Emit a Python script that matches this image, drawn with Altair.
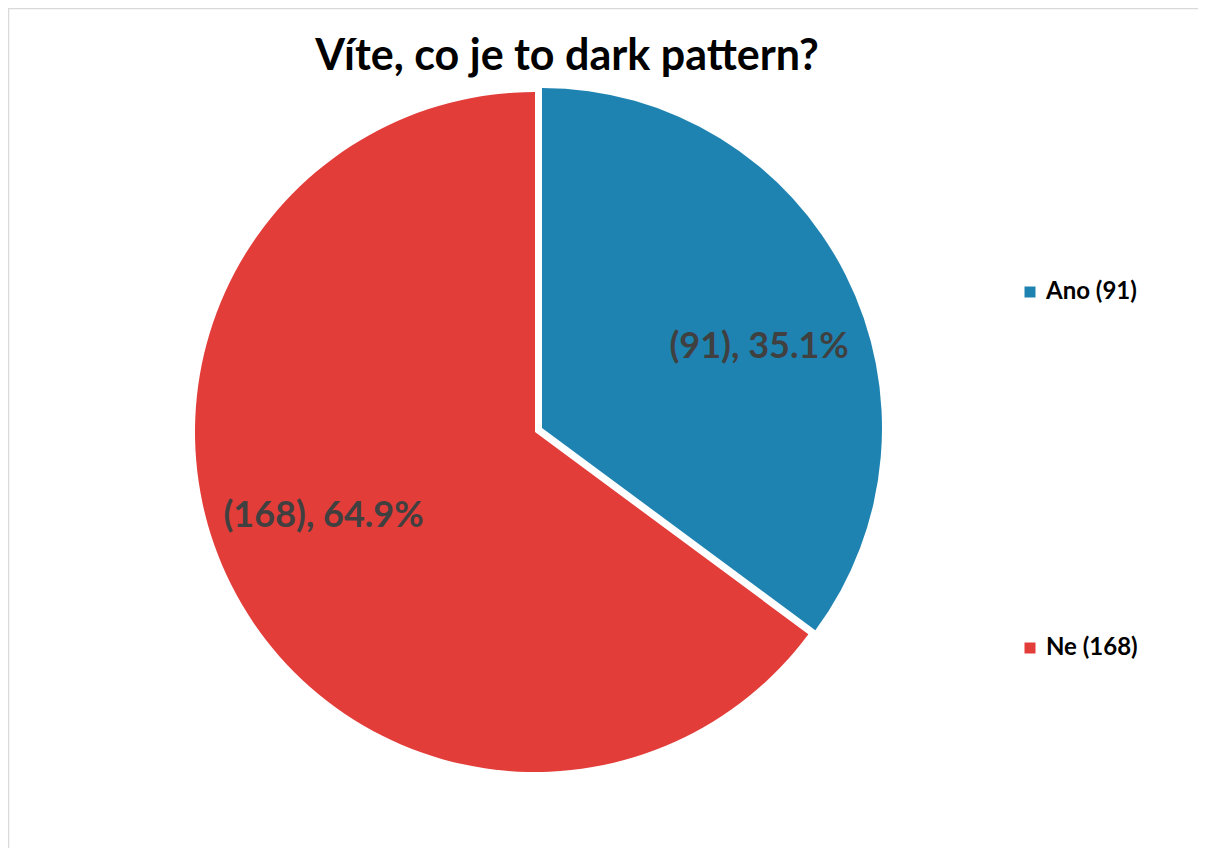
import altair as alt
import pandas as pd

title_text = "Víte, co je to dark pattern?"
categories = ["Ano", "Ne"]
counts = [91, 168]
percent_labels = ["35.1%", "64.9%"]
colors = ["#1F83B1", "#E33D3A"]

total = sum(counts)
df = pd.DataFrame({
    "cat": categories,
    "count": counts,
    "order": list(range(len(categories))),
    "legend": [f"{c} ({n})" for c, n in zip(categories, counts)],
    "label": [f"({n}), {p}" for n, p in zip(counts, percent_labels)],
})

W, H = 1190, 840
cx, cy = 527, 424
R = 340
FONT = "Lato"

color = alt.Color(
    "legend:N",
    scale=alt.Scale(domain=list(df["legend"]), range=colors),
    legend=alt.Legend(
        title=None, orient="none", legendX=1010, legendY=272,
        symbolType="square", symbolSize=121, symbolStrokeWidth=0,
        labelFont=FONT, labelFontSize=24, labelFontWeight="bold",
        labelColor="#000000", rowPadding=332, labelOffset=4,
    ),
)

theta_scale = alt.Scale(domain=[0, total], range=[0, 6.283185307179586])

base = (
    alt.Chart(df)
    .transform_stack(stack="count", groupby=[], as_=["t0", "t1"], sort=[alt.SortField("order")])
    .transform_calculate(tm="(datum.t0 + datum.t1) / 2")
)

ano = base.transform_filter(alt.datum.cat == "Ano").mark_arc(
    radius=R, stroke=None, xOffset=7, yOffset=-4
).encode(
    theta=alt.Theta("t0:Q", scale=theta_scale),
    theta2="t1:Q",
    color=color,
    x=alt.value(cx), y=alt.value(cy),
)
ne = base.transform_filter(alt.datum.cat == "Ne").mark_arc(
    radius=R, stroke=None
).encode(
    theta=alt.Theta("t0:Q", scale=theta_scale),
    theta2="t1:Q",
    color=color,
    x=alt.value(cx), y=alt.value(cy),
)

labels_ano = base.transform_filter(alt.datum.cat == "Ano").mark_text(
    radius=232, font=FONT, fontSize=36, fontWeight="bold", color="#404040",
    xOffset=17, yOffset=19,
).encode(
    theta=alt.Theta("tm:Q", scale=theta_scale),
    text="label:N",
    x=alt.value(cx), y=alt.value(cy),
)
labels_ne = base.transform_filter(alt.datum.cat == "Ne").mark_text(
    radius=230, font=FONT, fontSize=36, fontWeight="bold", color="#404040",
    xOffset=-6, yOffset=-20,
).encode(
    theta=alt.Theta("tm:Q", scale=theta_scale),
    text="label:N",
    x=alt.value(cx), y=alt.value(cy),
)

title = alt.Chart(pd.DataFrame({"t": [title_text]})).mark_text(
    font=FONT, fontSize=43, fontWeight="bold", color="#000000", baseline="alphabetic",
).encode(text="t:N", x=alt.value(559), y=alt.value(62))

border_top = alt.Chart(pd.DataFrame({"a": [0]})).mark_rule(color="#D9D9D9", strokeWidth=1.5).encode(
    x=alt.value(0), x2=alt.value(W + 20), y=alt.value(0.5)
)
border_left = alt.Chart(pd.DataFrame({"a": [0]})).mark_rule(color="#D9D9D9", strokeWidth=1.5).encode(
    x=alt.value(0.5), y=alt.value(0), y2=alt.value(H + 20)
)

chart = (
    alt.layer(border_top, border_left, ne, ano, labels_ne, labels_ano, title)
    .properties(width=W, height=H, autosize=alt.AutoSizeParams(type="none"), padding=0)
    .configure_view(stroke=None)
)

chart.save("out.html", embed_options={"renderer": "svg", "actions": False})
